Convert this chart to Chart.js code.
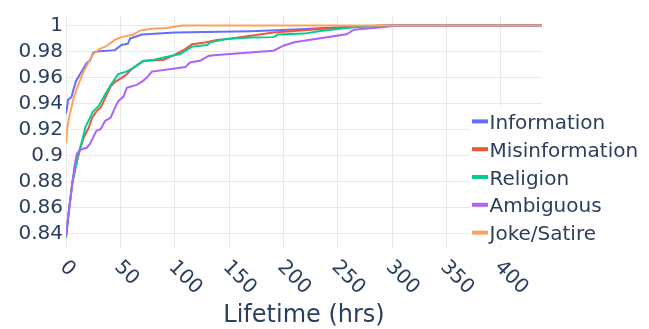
<!DOCTYPE html>
<html><head><meta charset="utf-8">
<script src="https://cdn.jsdelivr.net/npm/chart.js@4.4.1/dist/chart.umd.min.js"></script>
<style>html,body{margin:0;padding:0;background:#fff;}#wrap{width:649px;height:329px;}</style>
</head><body><div id="wrap"><canvas id="c" width="649" height="329"></canvas></div>
<script>
// ---- data (ECDF of lifetime in hours) ----
const seriesNames = ['Information', 'Misinformation', 'Religion', 'Ambiguous', 'Joke/Satire'];
const seriesColors = ['#636efa', '#EF553B', '#00cc96', '#ab63fa', '#FFA15A'];

const information = [[0,0.932],[2,0.943],[5,0.945],[9,0.957],[14,0.964],[19,0.971],[22,0.973],[25,0.979],[28,0.980],[45,0.981],[51,0.985],[57,0.986],[59,0.990],[70,0.993],[100,0.9945],[170,0.9955],[216,0.997],[260,0.999],[300,1],[438,1]];
const misinformation = [[0,0.837],[3,0.86],[6,0.88],[10,0.895],[13,0.905],[16,0.913],[21,0.9216],[24,0.929],[28,0.934],[32,0.937],[36,0.944],[41,0.953],[45,0.9565],[55,0.9618],[61,0.9668],[71,0.9726],[90,0.9736],[99,0.977],[107,0.9806],[110,0.982],[116,0.9855],[128,0.9868],[140,0.989],[147,0.9894],[170,0.992],[191,0.9945],[210,0.9957],[231,0.997],[252,0.9983],[265,0.999],[290,1],[438,1]];
const religion = [[0,0.837],[3,0.86],[6,0.88],[9,0.892],[11,0.90],[15,0.912],[18,0.922],[22,0.929],[25,0.934],[30,0.938],[35,0.9455],[41,0.954],[44,0.9576],[48,0.9626],[55,0.9643],[62,0.9674],[71,0.9726],[81,0.9736],[92,0.9757],[105,0.978],[110,0.9806],[116,0.9837],[130,0.985],[133,0.987],[147,0.9895],[170,0.9907],[191,0.991],[195,0.993],[219,0.9937],[234,0.9957],[252,0.9975],[267,0.9987],[290,0.9995],[300,1],[438,1]];
const ambiguous = [[0,0.838],[3,0.86],[6,0.88],[8,0.893],[10,0.9015],[13,0.9045],[19,0.906],[22,0.909],[25,0.914],[28,0.919],[32,0.9204],[36,0.9267],[41,0.929],[45,0.9367],[48,0.9417],[53,0.9455],[56,0.952],[65,0.9543],[70,0.9568],[74,0.9595],[79,0.9645],[110,0.968],[114,0.9715],[124,0.9731],[131,0.9765],[136,0.977],[172,0.9794],[191,0.9806],[200,0.9844],[210,0.987],[258,0.9932],[265,0.9967],[280,0.9978],[295,0.999],[305,1],[438,1]];
const jokeSatire = [[0,0.910],[1,0.920],[3,0.930],[5,0.937],[7,0.944],[11,0.954],[16,0.964],[21,0.972],[25,0.978],[31,0.982],[37,0.984],[45,0.989],[51,0.991],[62,0.993],[68,0.996],[79,0.9975],[93,0.998],[107,1],[438,1]];

const xTicks = [0, 50, 100, 150, 200, 250, 300, 350, 400];
const yTicks = [0.84, 0.86, 0.88, 0.9, 0.92, 0.94, 0.96, 0.98, 1];
const xTitle = 'Lifetime (hrs)';

const allSeries = [information, misinformation, religion, ambiguous, jokeSatire];
const FONT = '"DejaVu Sans", Verdana, sans-serif';
const TXT = '#2a3f5f';
const GRID = '#e8e8e8';

const overlay = {
  id: 'overlay',
  afterDraw(chart) {
    const ctx = chart.ctx, xs = chart.scales.x, a = chart.chartArea;
    ctx.save();
    ctx.fillStyle = TXT;
    // rotated x tick labels
    ctx.font = '20px ' + FONT;
    ctx.textAlign = 'left';
    ctx.textBaseline = 'alphabetic';
    xTicks.forEach(v => {
      const px = xs.getPixelForValue(v);
      ctx.save();
      ctx.translate(px - 1.5, a.bottom + 14.5);
      ctx.rotate(Math.PI / 4);
      ctx.fillText(String(v), 0, 7.3);
      ctx.restore();
    });
    // axis title
    ctx.font = '24px ' + FONT;
    ctx.textAlign = 'center';
    ctx.fillText(xTitle, (a.left + a.right) / 2, 321.5);
    // legend
    const lx = 470, ly = 107.5, rowH = 27.8;
    ctx.fillStyle = '#ffffff';
    ctx.fillRect(lx, ly, 649 - lx, rowH * seriesNames.length);
    ctx.font = '20px ' + FONT;
    ctx.textAlign = 'left';
    seriesNames.forEach((n, i) => {
      const cy = ly + rowH * (i + 0.5);
      ctx.strokeStyle = seriesColors[i];
      ctx.lineWidth = 4;
      ctx.beginPath();
      ctx.moveTo(472, cy);
      ctx.lineTo(488, cy);
      ctx.stroke();
      ctx.fillStyle = TXT;
      ctx.fillText(n, 489.5, cy + 7.5);
    });
    ctx.restore();
  }
};

new Chart(document.getElementById('c'), {
  type: 'line',
  data: {
    datasets: seriesNames.map((n, i) => ({
      label: n,
      data: allSeries[i].map(p => ({ x: p[0], y: p[1] })),
      borderColor: seriesColors[i],
      backgroundColor: seriesColors[i],
      borderWidth: 2,
      pointRadius: 0,
      tension: 0,
      fill: false,
      order: seriesNames.length - i
    }))
  },
  options: {
    responsive: false,
    animation: false,
    devicePixelRatio: 1,
    layout: { padding: { top: 10, right: 107, left: 0, bottom: 0 } },
    plugins: { legend: { display: false }, tooltip: { enabled: false } },
    scales: {
      x: {
        type: 'linear', min: 0, max: 438,
        afterBuildTicks: s => { s.ticks = xTicks.map(v => ({ value: v })); },
        afterFit: s => { s.height = 81; },
        ticks: { display: false },
        grid: { color: GRID, drawTicks: false, lineWidth: 1 },
        border: { display: false }
      },
      y: {
        type: 'linear', min: 0.829, max: 1.008,
        afterBuildTicks: s => { s.ticks = yTicks.map(v => ({ value: v })); },
        afterFit: s => { s.width = 66; },
        ticks: {
          padding: 3, color: TXT, font: { family: FONT, size: 20 },
          callback: v => String(Number(v.toFixed(2)))
        },
        grid: { color: GRID, drawTicks: false, lineWidth: 1 },
        border: { display: false }
      }
    }
  },
  plugins: [overlay]
});
</script>
</body></html>
